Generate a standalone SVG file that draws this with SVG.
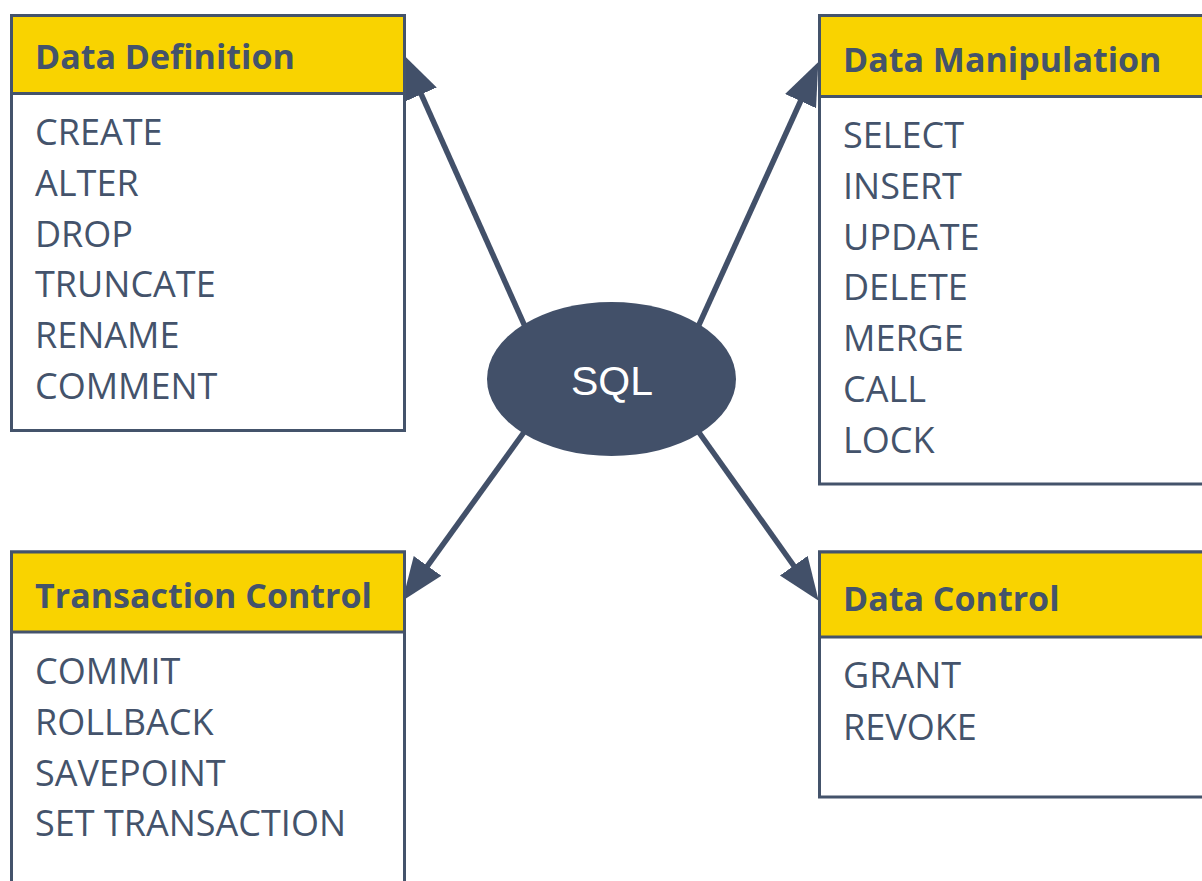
<svg xmlns="http://www.w3.org/2000/svg" width="1202" height="881" viewBox="0 0 1202 881">
<style>
.box{fill:#ffffff;stroke:#44536b;stroke-width:3}
.hdr{fill:#f9d300;stroke:#44536b;stroke-width:3}
.ht{font-family:"Open Sans","Liberation Sans",sans-serif;font-weight:bold;font-size:34px;fill:#44536b}
.it{font-family:"Open Sans","Liberation Sans",sans-serif;font-size:36px;fill:#44536b}
.conn{stroke:#425069;stroke-width:5.5;fill:none;marker-end:url(#ah)}
</style>
<defs>
<marker id="ah" markerUnits="userSpaceOnUse" markerWidth="46" markerHeight="36" refX="4" refY="17" orient="auto" viewBox="0 0 46 36">
<path d="M0,0 L43,17 L0,34 z" fill="#425069"/>
</marker>
</defs>
<rect width="1202" height="881" fill="#ffffff"/>
<g id="connectors">
<line class="conn" x1="540" y1="360" x2="419.6" y2="90.7"/>
<line class="conn" x1="683" y1="360" x2="802.2" y2="97.5"/>
<line class="conn" x1="540" y1="410" x2="425.2" y2="569.1"/>
<line class="conn" x1="683" y1="410" x2="796.1" y2="569"/>
</g>
<g id="sql">
<ellipse cx="611.5" cy="379" rx="124.5" ry="77" fill="#425069"/>
<text x="612" y="395" text-anchor="middle" font-family="'Liberation Sans',Arial,sans-serif" font-size="41" fill="#ffffff">SQL</text>
</g>
<g id="data-definition">
<rect class="box" x="11.5" y="15.5" width="393" height="415"/>
<rect class="hdr" x="11.5" y="15.5" width="393" height="78"/>
<text class="ht" x="35" y="69">Data Definition</text>
<text class="it" x="35" y="145">CREATE</text>
<text class="it" x="35" y="196">ALTER</text>
<text class="it" x="35" y="247">DROP</text>
<text class="it" x="35" y="297">TRUNCATE</text>
<text class="it" x="35" y="348">RENAME</text>
<text class="it" x="35" y="399">COMMENT</text>
</g>
<g id="data-manipulation">
<rect class="box" x="819.5" y="15.5" width="400" height="468.5"/>
<rect class="hdr" x="819.5" y="15.5" width="400" height="81"/>
<text class="ht" x="843" y="72">Data Manipulation</text>
<text class="it" x="843" y="148">SELECT</text>
<text class="it" x="843" y="199">INSERT</text>
<text class="it" x="843" y="250">UPDATE</text>
<text class="it" x="843" y="300">DELETE</text>
<text class="it" x="843" y="351">MERGE</text>
<text class="it" x="843" y="402">CALL</text>
<text class="it" x="843" y="453">LOCK</text>
</g>
<g id="transaction-control">
<rect class="box" x="11.5" y="552" width="393" height="350"/>
<rect class="hdr" x="11.5" y="552" width="393" height="80"/>
<text class="ht" x="35" y="608">Transaction Control</text>
<text class="it" x="35" y="684">COMMIT</text>
<text class="it" x="35" y="735">ROLLBACK</text>
<text class="it" x="35" y="786">SAVEPOINT</text>
<text class="it" x="35" y="836">SET TRANSACTION</text>
</g>
<g id="data-control">
<rect class="box" x="819.5" y="552" width="400" height="245"/>
<rect class="hdr" x="819.5" y="552" width="400" height="85"/>
<text class="ht" x="843" y="611">Data Control</text>
<text class="it" x="843" y="688">GRANT</text>
<text class="it" x="843" y="740">REVOKE</text>
</g>
</svg>
